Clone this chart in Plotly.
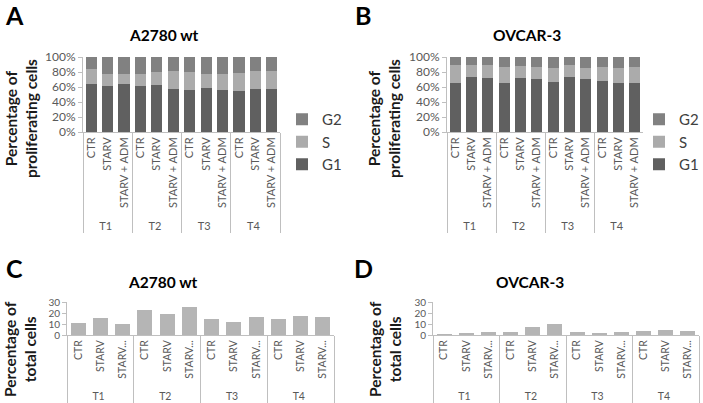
import plotly.graph_objects as go

# Kategorien (Zeitpunkt / Behandlung)
zeitpunkte = ["T1"] * 3 + ["T2"] * 3 + ["T3"] * 3 + ["T4"] * 3
behandlung = ["CTR", "STARV", "STARV + ADM"] * 4
behandlung_kurz = ["CTR", "STARV", "STARV..."] * 4

# A: A2780 wt, Zellzyklus-Anteile in %
a2780_g1 = [64.6, 61.4, 63.7, 61.4, 62.3, 57.8, 55.6, 59.2, 55.6, 54.7, 57.0, 57.8]
a2780_s = [19.3, 15.7, 13.4, 15.7, 18.0, 23.4, 24.2, 17.5, 21.5, 23.8, 24.2, 23.8]
a2780_g2 = [16.1, 22.9, 22.9, 22.9, 19.7, 18.8, 20.2, 23.3, 22.9, 21.5, 18.8, 18.4]

# B: OVCAR-3
ovcar_g1 = [65.6, 73.2, 72.3, 65.6, 72.3, 70.1, 66.5, 73.2, 70.1, 67.9, 64.7, 65.6]
ovcar_s = [23.2, 15.6, 17.4, 21.0, 15.6, 16.5, 18.8, 16.5, 15.6, 18.7, 21.0, 21.0]
ovcar_g2 = [11.2, 11.2, 10.3, 13.4, 12.1, 13.4, 14.7, 10.3, 14.3, 13.4, 14.3, 13.4]

# C/D: Anteil an allen Zellen
a2780_total = [10.7, 15.3, 9.8, 22.6, 19.0, 25.1, 14.7, 12.2, 16.2, 14.4, 17.1, 16.2]
ovcar_total = [0.9, 2.1, 2.4, 2.8, 7.0, 10.4, 2.8, 2.1, 2.4, 3.4, 4.6, 3.7]

W, H = 703, 403
FONT = "Lato, 'Open Sans', sans-serif"
farben = {"G1": "#606060", "S": "#ababab", "G2": "#818181"}

def px_x(x):
    return x / W

def px_y(y):
    return 1 - y / H

fig = go.Figure()

x_cat = [zeitpunkte, behandlung]
x_kurz = [zeitpunkte, behandlung_kurz]

for achse, leg, daten in [
    ("", "legend", (a2780_g1, a2780_s, a2780_g2)),
    ("2", "legend2", (ovcar_g1, ovcar_s, ovcar_g2)),
]:
    for name, werte in zip(["G1", "S", "G2"], daten):
        fig.add_trace(go.Bar(x=x_cat, y=werte, name=name, marker_color=farben[name],
                             marker_line_width=0, xaxis="x" + achse, yaxis="y" + achse,
                             legend=leg, legendgroup=name + achse))

fig.add_trace(go.Bar(x=x_kurz, y=a2780_total, marker_color="#b5b5b5", marker_line_width=0,
                     xaxis="x3", yaxis="y3", showlegend=False))
fig.add_trace(go.Bar(x=x_kurz, y=ovcar_total, marker_color="#b5b5b5", marker_line_width=0,
                     xaxis="x4", yaxis="y4", showlegend=False))

tickfont = dict(family=FONT, size=12, color="#595959")

def xachse(x0, x1, anker, fs):
    return dict(domain=[px_x(x0), px_x(x1)], anchor=anker, type="multicategory",
                tickangle=-90, tickfont=dict(tickfont, size=fs), showline=True,
                linecolor="#bfbfbf", dividercolor="#bfbfbf", showgrid=False, ticks="",
                automargin=False)

def yachse(y0, y1, anker, rng, dtick, suffix, fs):
    return dict(domain=[px_y(y1), px_y(y0)], anchor=anker, range=rng, dtick=dtick,
                ticksuffix=suffix, tickfont=dict(tickfont, size=fs), showline=True,
                linecolor="#bfbfbf", ticks="outside", ticklen=4, tickcolor="#bfbfbf",
                showgrid=False, zeroline=False, automargin=False)

legfont = dict(family=FONT, size=15, color="#404040")

fig.update_layout(
    width=W, height=H, margin=dict(l=0, r=0, t=0, b=0, autoexpand=False),
    plot_bgcolor="white", paper_bgcolor="white",
    barmode="stack", bargap=0.32,
    xaxis=xachse(83, 280, "y", 11), yaxis=yachse(57, 132, "x", [0, 100], 20, "%", 12),
    xaxis2=xachse(447, 643, "y2", 11), yaxis2=yachse(57, 132, "x2", [0, 100], 20, "%", 12),
    xaxis3=xachse(67, 334, "y3", 10.5), yaxis3=yachse(302, 335, "x3", [0, 30], 10, "", 10),
    xaxis4=xachse(433, 699, "y4", 10.5), yaxis4=yachse(302, 335, "x4", [0, 30], 10, "", 10),
    legend=dict(x=px_x(282), y=px_y(103), xanchor="left", yanchor="top",
                traceorder="reversed", tracegroupgap=6, font=legfont,
                bgcolor="rgba(0,0,0,0)"),
    legend2=dict(x=px_x(639), y=px_y(103), xanchor="left", yanchor="top",
                 traceorder="reversed", tracegroupgap=6, font=legfont,
                 bgcolor="rgba(0,0,0,0)"),
    showlegend=True,
)

# Buchstaben, Titel und Achsentitel
texte = [
    ("A", 14, 15, 25), ("B", 363, 15, 25), ("C", 14, 268, 25), ("D", 363, 268, 25),
    ("A2780 wt", 164, 35, 15.5), ("OVCAR-3", 527, 35, 15.5),
    ("A2780 wt", 163, 282, 15.5), ("OVCAR-3", 530, 282, 15.5),
]
for t, x, y, s in texte:
    fig.add_annotation(text="<b>%s</b>" % t, x=px_x(x), y=px_y(y), xref="paper", yref="paper",
                       xanchor="center", yanchor="middle", showarrow=False,
                       font=dict(family=FONT, size=s, color="black"))

for x, y, t in [(21, 119, "Percentage of<br>proliferating cells"),
                (384, 119, "Percentage of<br>proliferating cells"),
                (20, 349, "Percentage of<br>total cells"),
                (385, 349, "Percentage of<br>total cells")]:
    fig.add_annotation(text="<b>%s</b>" % t, x=px_x(x), y=px_y(y), xref="paper", yref="paper",
                       xanchor="center", yanchor="middle", showarrow=False, textangle=-90,
                       font=dict(family=FONT, size=15.5, color="#1a1a1a"))

# Browser-Standardrand des <body> entfernen, damit die Grafik bei (0,0) beginnt
fig.write_html("out.html", config={"displayModeBar": False},
               post_script="document.body.style.margin='0';")
